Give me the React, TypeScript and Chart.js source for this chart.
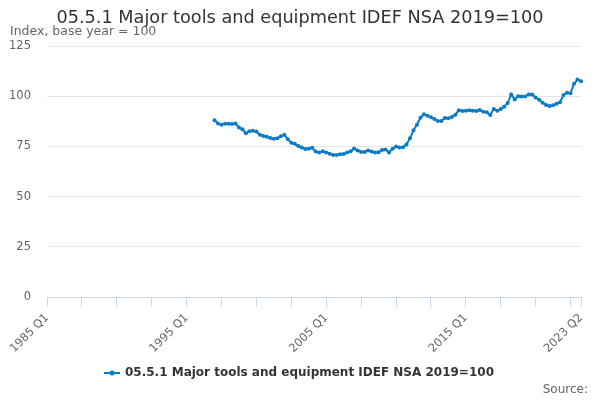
import React, { useEffect, useRef } from "react";
import { Chart, registerables } from "chart.js";
Chart.register(...registerables);

const TITLE = "05.5.1 Major tools and equipment IDEF NSA 2019=100";
const SUBTITLE = "Index, base year = 100";
const SERIES_NAME = "05.5.1 Major tools and equipment IDEF NSA 2019=100";
const SOURCE = "Source:";

const START_YEAR = 1985;
const END_YEAR = 2023;
const END_QUARTER = 2;
const DATA_START = "1997 Q1";

const Y_TICKS = [0, 25, 50, 75, 100, 125];

// Quarterly values from 1997 Q1 to 2023 Q2
const VALUES = [
  88.0, 86.4, 85.8, 86.3, 86.3, 86.2, 86.4, 84.4, 83.5, 81.6,
  82.5, 82.8, 82.4, 80.8, 80.2, 79.8, 79.2, 78.8, 79.0, 80.0,
  80.8, 78.5, 76.8, 76.3, 75.2, 74.4, 73.7, 73.8, 74.3, 72.4,
  71.9, 72.6, 72.0, 71.3, 70.7, 70.7, 71.1, 71.2, 71.9, 72.6,
  74.0, 73.0, 72.2, 72.2, 73.0, 72.4, 72.0, 72.1, 73.2, 73.5,
  72.0, 73.8, 74.9, 74.4, 74.6, 76.0, 79.0, 83.0, 85.8, 89.3,
  91.0, 90.3, 89.5, 88.6, 87.6, 87.6, 89.2, 89.0, 89.6, 90.8,
  93.0, 92.6, 92.8, 93.0, 92.8, 92.6, 93.1, 92.3, 92.0, 90.6,
  93.6, 92.8, 93.6, 94.8, 96.6, 100.9, 98.4, 100.0, 99.8, 99.8,
  100.9, 100.9, 99.4, 98.2, 96.8, 95.6, 95.1, 95.5, 96.2, 97.0,
  100.6, 101.7, 101.5, 106.2, 108.3, 107.5,
];

const LABELS: string[] = [];
for (let y = START_YEAR; y <= END_YEAR; y++) {
  for (let q = 1; q <= 4; q++) {
    if (y === END_YEAR && q > END_QUARTER) break;
    LABELS.push(`${y} Q${q}`);
  }
}

const COLOR = "#0c7bc5";
const FONT = "'DejaVu Sans', Verdana, sans-serif";

const textPlugin = {
  id: "texts",
  afterDraw(chart: any) {
    const ctx = chart.ctx as CanvasRenderingContext2D;
    ctx.save();
    ctx.textBaseline = "middle";
    ctx.fillStyle = "#333333";
    ctx.font = `17.7px ${FONT}`;
    ctx.textAlign = "center";
    ctx.fillText(TITLE, 300, 18);

    ctx.fillStyle = "#666666";
    ctx.font = `12.5px ${FONT}`;
    ctx.textAlign = "left";
    ctx.fillText(SUBTITLE, 10, 32);

    // legend
    ctx.strokeStyle = COLOR;
    ctx.lineWidth = 2;
    ctx.beginPath();
    ctx.moveTo(104, 373);
    ctx.lineTo(120, 373);
    ctx.stroke();
    ctx.fillStyle = COLOR;
    ctx.beginPath();
    ctx.arc(112, 373, 2.5, 0, Math.PI * 2);
    ctx.fill();
    ctx.fillStyle = "#333333";
    ctx.font = `bold 12px ${FONT}`;
    ctx.textAlign = "left";
    ctx.fillText(SERIES_NAME, 125, 373);

    ctx.fillStyle = "#666666";
    ctx.font = `12px ${FONT}`;
    ctx.textAlign = "right";
    ctx.fillText(SOURCE, 588, 390);
    ctx.restore();
  },
};

export default function App() {
  const ref = useRef<HTMLCanvasElement | null>(null);
  useEffect(() => {
    if (!ref.current) return;
    const startIdx = LABELS.indexOf(DATA_START);
    const data: (number | null)[] = LABELS.map((_, i) =>
      i >= startIdx && i - startIdx < VALUES.length ? VALUES[i - startIdx] : null
    );
    const last = LABELS.length - 1;
    const chart = new Chart(ref.current, {
      type: "line",
      data: {
        labels: LABELS,
        datasets: [
          {
            label: SERIES_NAME,
            data,
            borderColor: COLOR,
            backgroundColor: COLOR,
            borderWidth: 2,
            pointRadius: 2,
            pointBorderWidth: 0,
            pointBackgroundColor: COLOR,
            tension: 0,
          },
        ],
      },
      options: {
        animation: false,
        responsive: true,
        maintainAspectRatio: false,
        layout: { padding: { top: 46, left: 0, right: 19, bottom: 0 } },
        plugins: {
          legend: { display: false },
          title: { display: false },
          tooltip: { enabled: false },
        },
        scales: {
          x: {
            type: "category",
            offset: false,
            afterFit: (s: any) => {
              s.height = 103;
            },
            grid: {
              drawOnChartArea: false,
              drawTicks: true,
              tickLength: 10,
              color: (c: any) =>
                c.index % 10 === 0 || c.index === last ? "#ccd6eb" : "rgba(0,0,0,0)",
            },
            border: { display: true, color: "#ccd6eb", width: 1 },
            ticks: {
              autoSkip: false,
              minRotation: 45,
              maxRotation: 45,
              padding: 4,
              color: "#666666",
              font: { family: FONT, size: 11.5 },
              callback: (_v: any, i: number) =>
                i % 40 === 0 || i === last ? LABELS[i] : "",
            },
          },
          y: {
            min: 0,
            max: 125,
            afterFit: (s: any) => {
              s.width = 47;
            },
            afterBuildTicks: (s: any) => {
              s.ticks = Y_TICKS.map((v) => ({ value: v }));
            },
            grid: { color: "#e6e6e6", drawTicks: false, lineWidth: 1 },
            border: { display: false },
            ticks: {
              padding: 16,
              color: "#666666",
              font: { family: FONT, size: 11.5 },
            },
          },
        },
      },
      plugins: [textPlugin],
    });
    return () => chart.destroy();
  }, []);
  return (
    <div style={{ position: "fixed", left: 0, top: 0, width: 600, height: 400, background: "#fff" }}>
      <canvas ref={ref} />
    </div>
  );
}
